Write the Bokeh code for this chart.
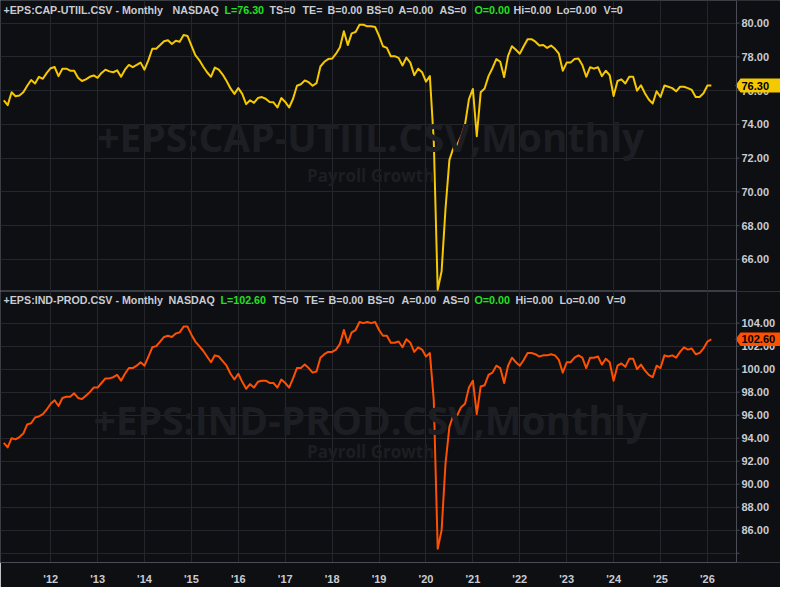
from bokeh.plotting import figure
from bokeh.models import (Range1d, FixedTicker, Grid, Label, BoxAnnotation, Span,
                          ColumnDataSource)
from bokeh.core.properties import value
from bokeh.layouts import column
from bokeh.embed import file_html
from bokeh.resources import INLINE

# ---------------- data (monthly, Jan 2011 .. Feb 2026) ----------------
start_year = 2011
cap_util = [
    75.43, 75.14, 75.90, 75.67, 75.71, 75.90, 76.29, 76.63, 76.42, 76.82, 76.70, 77.05,  # 2011
    77.33, 77.40, 76.86, 77.30, 77.30, 77.18, 77.18, 76.76, 76.57, 76.67, 76.82, 76.90,  # 2012
    76.76, 77.05, 77.24, 77.14, 77.09, 77.20, 76.82, 77.24, 77.52, 77.39, 77.52, 77.66,  # 2013
    77.24, 77.81, 78.48, 78.48, 78.70, 78.93, 78.99, 78.76, 78.95, 78.90, 79.30, 79.24,  # 2014
    78.67, 78.10, 77.81, 77.43, 77.09, 76.82, 77.37, 77.24, 76.95, 76.57, 76.13, 75.81,  # 2015
    76.15, 75.81, 75.20, 75.43, 75.28, 75.56, 75.62, 75.52, 75.33, 75.31, 75.00, 75.56,  # 2016
    75.33, 75.00, 75.52, 76.29, 76.38, 76.60, 76.50, 76.29, 76.44, 77.43, 77.71, 77.87,  # 2017
    77.90, 78.19, 78.57, 79.52, 78.70, 79.39, 79.47, 79.90, 79.90, 79.81, 79.81, 79.77,  # 2018
    79.24, 78.63, 78.53, 78.04, 78.04, 77.94, 77.49, 77.96, 77.66, 76.91, 77.30, 77.09,  # 2019
    76.53, 76.86, 73.00, 64.20, 65.30, 69.00, 71.90, 72.60, 72.80, 73.30, 74.00, 75.50,  # 2020
    76.10, 73.30, 75.90, 76.13, 76.86, 77.33, 77.87, 77.71, 76.80, 78.06, 78.63, 78.42,  # 2021
    78.19, 78.63, 79.05, 79.05, 78.90, 78.67, 78.70, 78.53, 78.67, 78.48, 78.19, 77.18,  # 2022
    77.66, 77.66, 77.87, 77.90, 77.52, 76.82, 77.39, 77.30, 77.39, 76.86, 77.18, 76.91,  # 2023
    75.68, 76.57, 76.67, 76.42, 76.82, 76.82, 76.00, 76.32, 75.85, 75.47, 75.24, 75.96,  # 2024
    75.62, 76.30, 76.23, 76.15, 75.96, 76.23, 76.23, 76.15, 76.04, 75.62, 75.62, 75.85,  # 2025
    76.30, 76.30,                                                                      # 2026
]
ind_prod = [
    93.6, 93.2, 94.0, 93.9, 94.1, 94.4, 95.2, 95.3, 95.8, 95.9, 96.1, 96.5,   # 2011
    97.0, 97.3, 96.8, 97.5, 97.6, 97.6, 97.9, 97.5, 97.4, 97.7, 98.0, 98.4,   # 2012
    98.4, 98.8, 99.2, 99.2, 99.3, 99.5, 99.0, 99.6, 100.1, 100.1, 100.3, 100.6,  # 2013
    100.3, 101.1, 101.9, 102.0, 102.4, 102.8, 102.9, 102.8, 103.1, 103.2, 103.7, 103.7,  # 2014
    103.0, 102.4, 102.0, 101.6, 101.1, 100.6, 101.2, 101.1, 100.7, 100.3, 99.6, 99.1,  # 2015
    99.6, 98.9, 98.3, 98.7, 98.4, 98.9, 99.0, 99.0, 98.8, 98.8, 98.4, 99.1,   # 2016
    98.8, 98.4, 99.2, 100.1, 100.1, 100.4, 100.1, 99.7, 99.8, 101.0, 101.3, 101.5,  # 2017
    101.5, 101.7, 102.2, 103.4, 102.3, 103.2, 103.4, 104.1, 104.0, 104.1, 104.0, 104.1,  # 2018
    103.4, 102.9, 102.9, 102.3, 102.3, 102.4, 101.9, 102.6, 102.3, 101.5, 101.9, 101.7,  # 2019
    101.1, 101.4, 97.3, 84.4, 86.0, 91.8, 95.0, 96.0, 96.0, 96.7, 97.0, 98.4,  # 2020
    99.0, 96.1, 98.5, 98.6, 99.5, 99.7, 100.3, 100.1, 98.8, 100.3, 101.0, 100.6,  # 2021
    100.3, 100.8, 101.4, 101.4, 101.3, 101.1, 101.2, 101.2, 101.3, 101.2, 100.8, 99.7,  # 2022
    100.6, 100.6, 101.0, 101.2, 101.0, 100.1, 101.0, 101.0, 101.1, 100.4, 100.9, 100.6,  # 2023
    99.0, 100.3, 100.5, 100.2, 100.9, 100.9, 100.0, 100.4, 99.9, 99.5, 99.3, 100.3,  # 2024
    100.1, 101.2, 101.1, 101.2, 101.0, 101.5, 101.9, 101.7, 101.8, 101.3, 101.4, 101.8,  # 2025
    102.4, 102.6,                                                               # 2026
]
year_ticks = [2012, 2013, 2014, 2015, 2016, 2017, 2018, 2019, 2020, 2021, 2022, 2023, 2024, 2025, 2026]
year_labels = ["'12", "'13", "'14", "'15", "'16", "'17", "'18", "'19", "'20", "'21", "'22", "'23", "'24", "'25", "'26"]
cap_ticks = [66, 68, 70, 72, 74, 76, 78, 80]
cap_labels = ["66.00", "68.00", "70.00", "72.00", "74.00", "76.00", "78.00", "80.00"]
ind_ticks = [84, 86, 88, 90, 92, 94, 96, 98, 100, 102, 104]
ind_labels = ["", "86.00", "88.00", "90.00", "92.00", "94.00", "96.00", "98.00", "100.00", "102.00", "104.00"]

top_title = "+EPS:CAP-UTIIL.CSV - Monthly"
bot_title = "+EPS:IND-PROD.CSV - Monthly"
wm_top = "+EPS:CAP-UTIIL.CSV,Monthly"
wm_bot = "+EPS:IND-PROD.CSV,Monthly"
wm_sub = "Payroll Growth"
top_fields = ["NASDAQ", "L=76.30", "TS=0", "TE=", "B=0.00", "BS=0", "A=0.00", "AS=0", "O=0.00", "Hi=0.00", "Lo=0.00", "V=0"]
bot_fields = ["NASDAQ", "L=102.60", "TS=0", "TE=", "B=0.00", "BS=0", "A=0.00", "AS=0", "O=0.00", "Hi=0.00", "Lo=0.00", "V=0"]
top_tag = "76.30"
bot_tag = "102.60"

n = len(cap_util)
xs = [start_year + i / 12.0 for i in range(n)]

# ---------------- style ----------------
BG = "#0e0f12"
GRID = "#24262b"
AXIS = "#4a4d55"
TXT = "#c9ccd3"
GREEN = "#22e022"
WM = "#1c1e23"
YEL = "#f5c800"
ORG = "#ff4f00"
FONT = "Liberation Sans"
WMFONT = "Open Sans"
HFS = "10.7px"

W = 780
RIGHT_W = 44
TOP_H = 291
FRAME_B = 278
AXIS_H = 18
X0, X1 = 2010.93, 2026.62
DX = (X1 - X0) / (W - RIGHT_W)          # data units per pixel
XE = X1 + RIGHT_W * DX


def panel(frame_h, yr, yticks, ylabels, ys, color, title, fields, field_x,
          wm, wm_y, pg_y, tag_txt, xaxis):
    height = frame_h + (AXIS_H if xaxis else 0)
    p = figure(width=W, height=height, output_backend="svg", toolbar_location=None,
               x_range=Range1d(X0, XE), y_range=Range1d(*yr),
               y_axis_location=None, x_axis_location="below" if xaxis else None,
               min_border_left=0, min_border_top=0, min_border_right=0,
               min_border_bottom=AXIS_H if xaxis else 0)
    for g in p.grid:
        g.visible = False
    p.background_fill_color = BG
    p.border_fill_color = BG
    p.outline_line_color = "#3a3d44"
    ppu = frame_h / (yr[1] - yr[0])

    p.add_layout(Grid(dimension=1, ticker=FixedTicker(ticks=yticks), grid_line_color=GRID))
    p.add_layout(Grid(dimension=0, ticker=FixedTicker(ticks=year_ticks), grid_line_color=GRID))
    if xaxis:
        xa = p.xaxis[0]
        xa.ticker = FixedTicker(ticks=year_ticks)
        xa.major_label_overrides = {t: l for t, l in zip(year_ticks, year_labels)}
        xa.axis_line_color = AXIS
        xa.major_tick_line_color = None
        xa.minor_tick_line_color = None
        xa.major_label_standoff = 4
        xa.major_label_text_color = TXT
        xa.major_label_text_font = FONT
        xa.major_label_text_font_style = "bold"
        xa.major_label_text_font_size = "11px"

    # watermark
    xc = X0 + (X1 - X0) * 0.503
    p.add_layout(Label(x=xc, y=wm_y, text=wm, text_align="center", text_baseline="middle",
                       text_font=WMFONT, text_font_style="bold", text_font_size="39px",
                       text_color=WM))
    p.add_layout(Label(x=xc, y=pg_y, text=wm_sub, text_align="center",
                       text_baseline="middle", text_font=WMFONT, text_font_style="bold",
                       text_font_size="17px", text_color=WM))

    src = ColumnDataSource(dict(x=xs, y=ys))
    p.line("x", "y", source=src, line_color=color, line_width=2, line_join="round")

    # right price-axis area
    p.add_layout(BoxAnnotation(left=X1, fill_color=BG, fill_alpha=1.0, line_alpha=0,
                               level="annotation"))
    p.add_layout(Span(location=X1, dimension="height", line_color=AXIS, line_width=1,
                      level="overlay"))
    tsrc = ColumnDataSource(dict(x0=[X1] * len(yticks), x1=[X1 + 3 * DX] * len(yticks),
                                 xl=[X1 + 5 * DX] * len(yticks), y=yticks, t=ylabels))
    p.segment("x0", "y", "x1", "y", source=tsrc, line_color=AXIS, line_width=1, level="overlay")
    p.text("xl", "y", text="t", source=tsrc, text_color=TXT, text_font=value(FONT),
           text_font_style="bold", text_font_size="11px", text_baseline="middle",
           level="overlay")

    # last value tag
    v = ys[-1]
    h = 7.0 / ppu
    p.patch([X1 - 1 * DX, X1 + 4 * DX, XE, XE, X1 + 4 * DX],
            [v, v + h, v + h, v - h, v - h], fill_color=color, line_alpha=0, level="overlay")
    p.text([X1 + 5 * DX], [v], text=[tag_txt], text_color="#000000", text_font=value(FONT),
           text_font_style="bold", text_font_size="11px", text_baseline="middle",
           level="overlay")

    # header
    hy = yr[1] - 9.0 / ppu
    p.add_layout(Label(x=3, y=hy, x_units="screen", text=title, text_baseline="middle",
                       text_font=FONT, text_font_style="bold", text_font_size=HFS,
                       text_color=TXT))
    for f, fx in zip(fields, field_x):
        c = GREEN if (f.startswith("L=") or f.startswith("O=")) else TXT
        p.add_layout(Label(x=fx, y=hy, x_units="screen", text=f, text_baseline="middle",
                           text_font=FONT, text_font_style="bold", text_font_size=HFS,
                           text_color=c))
    return p


top = panel(TOP_H, (64.1, 81.34), cap_ticks, cap_labels, cap_util, YEL,
            top_title, top_fields,
            [172, 224, 269, 302, 327, 366, 398, 439, 474, 513, 556, 603],
            wm_top, 73.29, 71.0, top_tag, False)
bot = panel(FRAME_B, (83.2, 106.75), ind_ticks, ind_labels, ind_prod, ORG,
            bot_title, bot_fields,
            [168, 220, 272, 304, 328, 367, 401, 442, 474, 515, 559, 606],
            wm_bot, 95.6, 92.87, bot_tag, True)

layout = column(top, bot, spacing=0)
open("out.html", "w").write(file_html(layout, INLINE))
